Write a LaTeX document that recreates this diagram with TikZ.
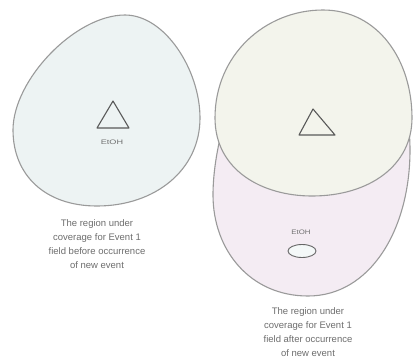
\documentclass[tikz,border=0pt]{standalone}
\usepackage{fontspec}
\setmainfont{Liberation Sans}
\usetikzlibrary{shapes.geometric}
\definecolor{leftfill}{HTML}{EDF3F3}
\definecolor{bigfill}{HTML}{F4ECF3}
\definecolor{upfill}{HTML}{F3F4EC}
\definecolor{outl}{HTML}{9A9A9A}
\definecolor{txt}{HTML}{6E6E6E}
\tikzset{
  eggline/.style={draw=outl, line width=1.1pt},
  tri/.style={draw=black!65, line width=1.1pt, line join=round},
  lbl/.style={text=txt, font=\fontsize{6.5}{7}\selectfont, inner sep=0pt},
  captext/.style={text=txt, font=\fontsize{9.5}{13.8}\selectfont, align=center, inner sep=0pt}
}
\begin{document}
\begin{tikzpicture}[x=1pt,y=-1pt]
\useasboundingbox[fill=white] (0,0) rectangle (413,357);
% left egg
\path[eggline, fill=leftfill] (125,15) .. controls (165,15) and (200,70) .. (200,118)
  .. controls (200,170) and (155,206) .. (97,206)
  .. controls (45,206) and (13,175) .. (13,130)
  .. controls (13,80) and (75,15) .. (125,15) -- cycle;
% big right egg
\path[eggline, fill=bigfill] (323,12) .. controls (372,12) and (410,80) .. (410,150)
  .. controls (410,230) and (370,296) .. (308,296)
  .. controls (250,296) and (213,250) .. (213,195)
  .. controls (213,130) and (250,12) .. (323,12) -- cycle;
% upper egg on top
\path[eggline, fill=upfill] (323,10) .. controls (378,10) and (412,60) .. (412,118)
  .. controls (412,165) and (370,196) .. (312,196)
  .. controls (262,196) and (215,170) .. (215,118)
  .. controls (215,55) and (265,10) .. (323,10) -- cycle;
% triangles
\coordinate (la) at (113,101); \coordinate (lb) at (97,128); \coordinate (lc) at (129,128);
\draw[tri] (la) -- (lb) -- (lc) -- cycle;
\coordinate (ra) at (313,109); \coordinate (rb) at (299,135); \coordinate (rc) at (335,135);
\draw[tri] (ra) -- (rb) -- (rc) -- cycle;
% labels
\node[lbl] (l1) at (112,142) {\scalebox{1.4}[1]{EtOH}};
\node[lbl] (l2) at (301,232) {\scalebox{1.2}[1]{EtOH}};
\node[draw=black!60, line width=0.9pt, fill=leftfill!60, ellipse, minimum width=28pt, minimum height=13pt, inner sep=0pt] (ell) at (302,251) {};
% captions
\node[captext] (c1) at (97,244) {The region under\\coverage for Event 1\\field before occurrence\\of new event};
\node[captext] (c2) at (308,332) {The region under\\coverage for Event 1\\field after occurrence\\of new event};
\end{tikzpicture}
\end{document}
